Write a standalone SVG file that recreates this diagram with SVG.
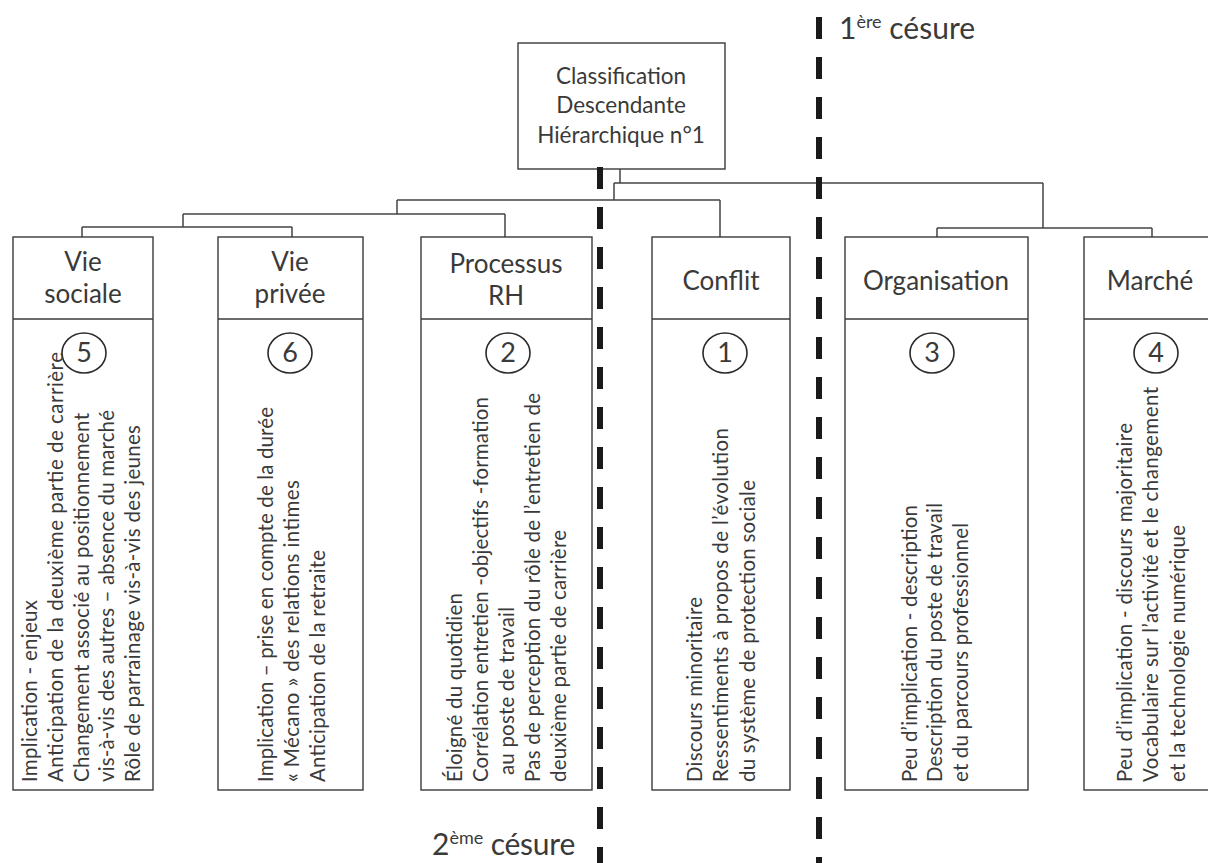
<svg xmlns="http://www.w3.org/2000/svg" width="1208" height="863" viewBox="0 0 1208 863">
<style>
.box{fill:#fff;stroke:#3a3a3a;stroke-width:1.4}
.div{stroke:#3a3a3a;stroke-width:1.4}
.con{fill:none;stroke:#444;stroke-width:1.5}
.cut{stroke:#1a1a1a;stroke-width:6;stroke-dasharray:22 18}
.hd{font-family:Lato,"Open Sans",sans-serif;font-size:26px;fill:#3a3a3a;text-anchor:middle}
.tt{font-family:Lato,"Open Sans",sans-serif;font-size:22.5px;fill:#3a3a3a;text-anchor:middle}
.num{font-family:Lato,"Open Sans",sans-serif;font-size:27px;fill:#3a3a3a;text-anchor:middle}
.bd{font-family:Lato,"Open Sans",sans-serif;font-size:20.5px;fill:#3a3a3a}
.cs{font-family:Lato,"Open Sans",sans-serif;font-size:30px;fill:#3a3a3a}
.sup{font-family:Lato,"Open Sans",sans-serif;font-size:18px;fill:#3a3a3a}
.circ{fill:none;stroke:#2a2a2a;stroke-width:1.6}
</style>
<rect width="1208" height="863" fill="#fff"/>

<g id="connectors">
<path class="con" d="M620,169 V183 M614,183 H1043 M614,183 V200 M397,200 H720 M720,200 V237 M397,200 V214 M183,214 H505 M505,214 V237 M183,214 V227 M82,227 H292 M82,227 V237 M292,227 V237 M1043,183 V228 M937,228 H1152 M937,228 V237 M1152,228 V237"/>
</g>

<g id="root">
<rect class="box" x="518" y="43" width="207" height="126"/>
<text class="tt" x="621" y="84">Classification</text>
<text class="tt" x="621" y="113">Descendante</text>
<text class="tt" x="621" y="143">Hiérarchique n°1</text>
</g>

<g id="vie-sociale">
<rect class="box" x="13" y="237" width="140" height="553"/>
<line class="div" x1="13" y1="319" x2="153" y2="319"/>
<text class="hd" x="83" y="271">Vie</text>
<text class="hd" x="83" y="303">sociale</text>
<ellipse class="circ" cx="84" cy="353" rx="22" ry="20"/>
<text class="num" x="84" y="362">5</text>
<text class="bd" transform="translate(37,782) rotate(-90)" textLength="182">Implication - enjeux</text>
<text class="bd" transform="translate(63,782) rotate(-90)" textLength="430">Anticipation de la deuxième partie de carrière</text>
<text class="bd" transform="translate(89,782) rotate(-90)" textLength="369">Changement associé au positionnement</text>
<text class="bd" transform="translate(114,782) rotate(-90)" textLength="372">vis-à-vis des autres – absence du marché</text>
<text class="bd" transform="translate(140,782) rotate(-90)" textLength="357">Rôle de parrainage vis-à-vis des jeunes</text>
</g>

<g id="vie-privee">
<rect class="box" x="218" y="237" width="145" height="553"/>
<line class="div" x1="218" y1="319" x2="363" y2="319"/>
<text class="hd" x="290" y="271">Vie</text>
<text class="hd" x="290" y="303">privée</text>
<ellipse class="circ" cx="290" cy="353" rx="22" ry="20"/>
<text class="num" x="290" y="362">6</text>
<text class="bd" transform="translate(273,782) rotate(-90)" textLength="375">Implication – prise en compte de la durée</text>
<text class="bd" transform="translate(299,782) rotate(-90)" textLength="302">« Mécano » des relations intimes</text>
<text class="bd" transform="translate(325,782) rotate(-90)" textLength="232">Anticipation de la retraite</text>
</g>

<g id="processus-rh">
<rect class="box" x="421" y="237" width="171" height="553"/>
<line class="div" x1="421" y1="319" x2="592" y2="319"/>
<text class="hd" x="506" y="273">Processus</text>
<text class="hd" x="506" y="305">RH</text>
<ellipse class="circ" cx="508" cy="353" rx="22" ry="20"/>
<text class="num" x="508" y="362">2</text>
<text class="bd" transform="translate(462,782) rotate(-90)" textLength="189">Éloigné du quotidien</text>
<text class="bd" transform="translate(488,782) rotate(-90)" textLength="385">Corrélation entretien -objectifs -formation</text>
<text class="bd" transform="translate(514,775) rotate(-90)" textLength="168">au poste de travail</text>
<text class="bd" transform="translate(540,782) rotate(-90)" textLength="389">Pas de perception du rôle de l’entretien de</text>
<text class="bd" transform="translate(566,782) rotate(-90)" textLength="252">deuxième partie de carrière</text>
</g>

<g id="conflit">
<rect class="box" x="652" y="237" width="138" height="553"/>
<line class="div" x1="652" y1="319" x2="790" y2="319"/>
<text class="hd" x="721" y="290">Conflit</text>
<ellipse class="circ" cx="725" cy="353" rx="22" ry="20"/>
<text class="num" x="725" y="362">1</text>
<text class="bd" transform="translate(702,782) rotate(-90)" textLength="185">Discours minoritaire</text>
<text class="bd" transform="translate(728,782) rotate(-90)" textLength="354">Ressentiments  à propos de l’évolution</text>
<text class="bd" transform="translate(755,782) rotate(-90)" textLength="302">du système de protection sociale</text>
</g>

<g id="organisation">
<rect class="box" x="845" y="237" width="183" height="553"/>
<line class="div" x1="845" y1="319" x2="1028" y2="319"/>
<text class="hd" x="936" y="290">Organisation</text>
<ellipse class="circ" cx="932" cy="353" rx="22" ry="20"/>
<text class="num" x="932" y="362">3</text>
<text class="bd" transform="translate(917,782) rotate(-90)" textLength="277">Peu d’implication - description</text>
<text class="bd" transform="translate(942,782) rotate(-90)" textLength="279">Description du poste de travail</text>
<text class="bd" transform="translate(968,782) rotate(-90)" textLength="259">et du parcours professionnel</text>
</g>

<g id="marche">
<rect class="box" x="1084" y="237" width="140" height="553"/>
<line class="div" x1="1084" y1="319" x2="1224" y2="319"/>
<text class="hd" x="1150" y="290">Marché</text>
<ellipse class="circ" cx="1156" cy="353" rx="22" ry="20"/>
<text class="num" x="1156" y="362">4</text>
<text class="bd" transform="translate(1132,782) rotate(-90)" textLength="359">Peu d’implication - discours majoritaire</text>
<text class="bd" transform="translate(1158,782) rotate(-90)" textLength="395">Vocabulaire sur l’activité et  le changement</text>
<text class="bd" transform="translate(1185,782) rotate(-90)" textLength="257">et la technologie numérique</text>
</g>

<g id="cesure-1">
<line class="cut" x1="819" y1="17" x2="819" y2="863"/>
<text class="cs" x="839" y="39">1<tspan class="sup" dy="-11">ère</tspan><tspan dy="11"> césure</tspan></text>
</g>

<g id="cesure-2">
<line class="cut" x1="600" y1="167" x2="600" y2="863"/>
<text class="cs" x="432" y="855">2<tspan class="sup" dy="-11">ème</tspan><tspan dy="11" textLength="92"> césure</tspan></text>
</g>
</svg>
